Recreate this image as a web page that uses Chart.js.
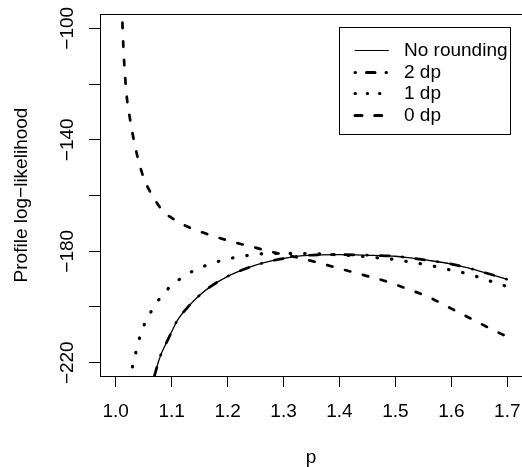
<!DOCTYPE html>
<html>
<head>
<meta charset="utf-8">
<script src="https://cdn.jsdelivr.net/npm/chart.js@4"></script>
<style>
  html, body { margin: 0; padding: 0; background: #fff; }
  #wrap { width: 522px; height: 467px; }
</style>
</head>
<body>
<div id="wrap"><canvas id="chart"></canvas></div>
<script>
const seriesNames = ["No rounding", "2 dp", "1 dp", "0 dp"];

// profile log-likelihood against p
const pNone = [1.05, 1.06, 1.07, 1.08, 1.09, 1.10, 1.11, 1.13, 1.15, 1.17, 1.20, 1.22, 1.25, 1.28, 1.30, 1.33, 1.36, 1.40, 1.43, 1.46, 1.50, 1.53, 1.56, 1.60, 1.63, 1.66, 1.70];
const llNone = [-242, -232.5, -224.2, -217.5, -213.1, -208.9, -204.9, -199.8, -195.8, -192.6, -189.0, -187.2, -185.0, -183.4, -182.6, -181.7, -181.3, -181.2, -181.3, -181.5, -181.8, -182.5, -183.3, -184.6, -186.0, -187.7, -190.1];

const p2dp = [1.05, 1.06, 1.07, 1.08, 1.09, 1.10, 1.11, 1.13, 1.15, 1.17, 1.20, 1.22, 1.25, 1.28, 1.30, 1.33, 1.36, 1.40, 1.43, 1.46, 1.50, 1.53, 1.56, 1.60, 1.63, 1.66, 1.70];
const ll2dp = [-242, -232.5, -224.2, -217.5, -213.1, -208.9, -204.9, -199.8, -195.8, -192.6, -189.0, -187.2, -185.0, -183.4, -182.6, -181.7, -181.3, -181.2, -181.3, -181.5, -181.8, -182.5, -183.3, -184.6, -186.0, -187.7, -190.1];

const p1dp = [1.03, 1.035, 1.04, 1.05, 1.06, 1.08, 1.10, 1.12, 1.14, 1.17, 1.20, 1.24, 1.28, 1.32, 1.36, 1.40, 1.44, 1.47, 1.50, 1.53, 1.56, 1.60, 1.63, 1.66, 1.70];
const ll1dp = [-221.5, -217.2, -212.9, -206.9, -202.8, -196.6, -192.2, -189.3, -186.9, -184.5, -182.8, -181.4, -180.8, -180.8, -180.9, -181.3, -181.8, -182.4, -183.0, -184.0, -185.0, -186.8, -188.1, -190.1, -192.7];

const p0dp = [1.012, 1.014, 1.016, 1.018, 1.021, 1.025, 1.03, 1.035, 1.04, 1.05, 1.06, 1.07, 1.085, 1.10, 1.12, 1.15, 1.18, 1.21, 1.24, 1.28, 1.32, 1.36, 1.40, 1.44, 1.48, 1.52, 1.56, 1.60, 1.64, 1.67, 1.70];
const ll0dp = [-98.0, -108.0, -114.8, -120.5, -126.9, -131.8, -137.6, -142.6, -146.9, -153.7, -158.1, -161.5, -165.8, -168.0, -170.4, -172.9, -174.9, -176.7, -178.2, -180.3, -182.0, -184.0, -186.2, -188.4, -190.6, -193.4, -196.5, -200.6, -204.7, -207.8, -210.7];

const xTicks = [1.0, 1.1, 1.2, 1.3, 1.4, 1.5, 1.6, 1.7];
const xTickLabels = ["1.0", "1.1", "1.2", "1.3", "1.4", "1.5", "1.6", "1.7"];
const yTicks = [-220, -200, -180, -160, -140, -120, -100];
const yTickLabels = ["\u2212220", "", "\u2212180", "", "\u2212140", "", "\u2212100"];

function toPoints(xs, ys) {
  return xs.map((x, i) => ({ x: x, y: ys[i] }));
}

Chart.defaults.font.family = '"Liberation Sans", Arial, sans-serif';
Chart.defaults.font.size = 19;
Chart.defaults.color = "#000";

// box top edge and the legend, drawn like base R does it
const boxAndLegend = {
  id: "boxAndLegend",
  afterDraw(chart) {
    const { ctx, chartArea } = chart;
    ctx.save();
    ctx.strokeStyle = "#000";
    ctx.lineWidth = 1;
    ctx.setLineDash([]);
    ctx.beginPath();
    ctx.moveTo(chartArea.left, chartArea.top + 0.5);
    ctx.lineTo(chartArea.right, chartArea.top + 0.5);
    ctx.stroke();

    ctx.strokeRect(339.5, 27.5, 171, 107);

    ctx.font = '19px "Liberation Sans", Arial, sans-serif';
    ctx.fillStyle = "#000";
    ctx.textBaseline = "middle";
    chart.data.datasets.forEach((ds, i) => {
      const y = Math.round(50 + i * 21.67) + 0.5;
      ctx.lineWidth = ds.legendWidth;
      ctx.lineCap = "round";
      ctx.setLineDash(ds.legendDash);
      ctx.beginPath();
      ctx.moveTo(355, y);
      ctx.lineTo(388.5, y);
      ctx.stroke();
      ctx.setLineDash([]);
      ctx.fillText(ds.label, 404, y);
    });
    ctx.restore();
  },
};

new Chart(document.getElementById("chart"), {
  type: "line",
  data: {
    datasets: [
      {
        label: seriesNames[0],
        data: toPoints(pNone, llNone),
        borderColor: "#000",
        borderWidth: 1.3,
        borderDash: [],
        legendDash: [],
        legendWidth: 1,
        order: 4,
      },
      {
        label: seriesNames[1],
        data: toPoints(p2dp, ll2dp),
        borderColor: "#000",
        borderWidth: 2.7,
        borderDash: [0.5, 13, 9, 13],
        legendDash: [0.5, 11, 8.5, 11],
        legendWidth: 3,
        order: 3,
      },
      {
        label: seriesNames[2],
        data: toPoints(p1dp, ll1dp),
        borderColor: "#000",
        borderWidth: 3.2,
        borderDash: [0.5, 14],
        legendDash: [0.5, 11.7],
        legendWidth: 3,
        order: 2,
      },
      {
        label: seriesNames[3],
        data: toPoints(p0dp, ll0dp),
        borderColor: "#000",
        borderWidth: 2.7,
        borderDash: [5.5, 13],
        legendDash: [7, 12.7],
        legendWidth: 3,
        order: 1,
      },
    ],
  },
  options: {
    responsive: true,
    maintainAspectRatio: false,
    animation: false,
    layout: { padding: { top: 14, left: 0, right: 0, bottom: 0 } },
    elements: {
      point: { radius: 0 },
      line: {
        cubicInterpolationMode: "monotone",
        borderCapStyle: "round",
        borderJoinStyle: "round",
        fill: false,
      },
    },
    datasets: { line: { clip: 0 } },
    plugins: {
      legend: { display: false },
      title: { display: false },
      tooltip: { enabled: false },
    },
    scales: {
      x: {
        type: "linear",
        min: 0.97193,
        max: 1.72631,
        afterBuildTicks: (scale) => {
          scale.ticks = xTicks.map((v) => ({ value: v }));
        },
        afterFit: (scale) => {
          scale.height = 91;
          scale.paddingLeft = 0;
          scale.paddingRight = 0;
        },
        ticks: {
          callback: (v, i) => xTickLabels[i],
          padding: 13.5,
          maxRotation: 0,
          minRotation: 0,
          autoSkip: false,
        },
        grid: {
          drawOnChartArea: false,
          drawTicks: true,
          tickLength: 11,
          tickColor: "#000",
          tickWidth: 1,
        },
        border: { display: true, color: "#000", width: 1 },
        title: {
          display: true,
          text: "p",
          font: { size: 19, lineHeight: 1 },
          padding: { top: 0, bottom: 0 },
        },
      },
      y: {
        type: "linear",
        min: -224.77,
        max: -94.87,
        afterBuildTicks: (scale) => {
          scale.ticks = yTicks.map((v) => ({ value: v }));
        },
        afterFit: (scale) => {
          scale.width = 100;
          scale.paddingTop = 0;
          scale.paddingBottom = 0;
        },
        ticks: {
          callback: (v, i) => yTickLabels[i],
          padding: 0,
          minRotation: 90,
          maxRotation: 90,
          crossAlign: "center",
          autoSkip: false,
        },
        grid: {
          drawOnChartArea: false,
          drawTicks: true,
          tickLength: 11,
          tickColor: "#000",
          tickWidth: 1,
        },
        border: { display: true, color: "#000", width: 1 },
        title: {
          display: true,
          text: "Profile log\u2212likelihood",
          font: { size: 19 },
          padding: { top: 10.3, bottom: 0 },
        },
      },
    },
  },
  plugins: [boxAndLegend],
});
</script>
</body>
</html>
